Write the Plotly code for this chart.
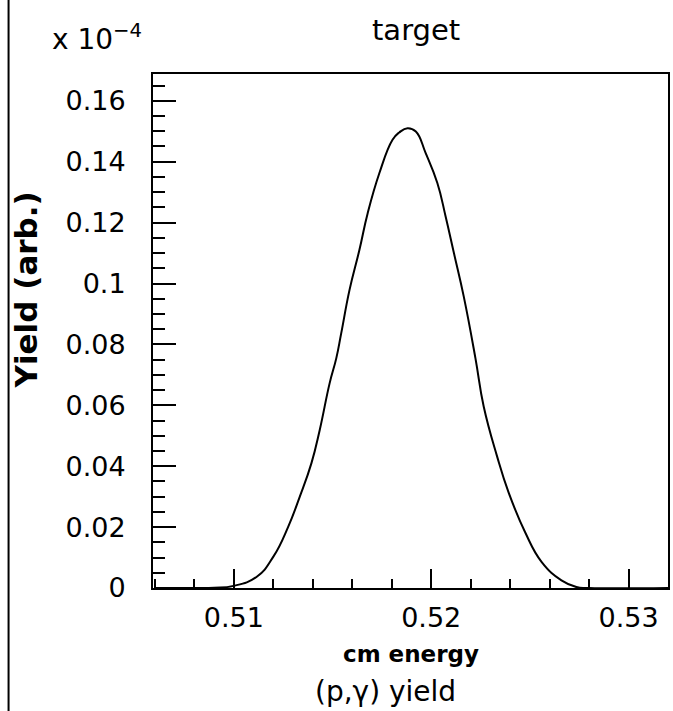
import plotly.graph_objects as go

# Data (energy in MeV, yield in units of 1e-4)
cm_energy = [0.5060, 0.5080, 0.5090, 0.50998, 0.51116, 0.51200, 0.51275, 0.51334, 0.51393,
             0.51435, 0.51485, 0.51519, 0.51544, 0.51586, 0.51636, 0.51678, 0.51737,
             0.51804, 0.51838, 0.51880, 0.51922, 0.51972, 0.52031, 0.52073, 0.52115,
             0.52165, 0.52224, 0.52266, 0.52333, 0.52392, 0.52476, 0.52560, 0.52660,
             0.52736, 0.52800, 0.5320]
yield_vals = [0.0, 0.0, 0.0001, 0.0007, 0.0037, 0.0103, 0.0201, 0.0300, 0.0410,
              0.0519, 0.0672, 0.0755, 0.0837, 0.0979, 0.1110, 0.1231, 0.1362,
              0.1472, 0.1496, 0.1510, 0.1499, 0.1428, 0.1330, 0.1220, 0.1100,
              0.0957, 0.0755, 0.0596, 0.0434, 0.0314, 0.0183, 0.0085, 0.0025,
              0.0003, 0.0, 0.0]

x_tickvals = [0.51, 0.52, 0.53]
x_ticktext = ["0.51", "0.52", "0.53"]
y_tickvals = [0, 0.02, 0.04, 0.06, 0.08, 0.1, 0.12, 0.14, 0.16]
y_ticktext = ["0", "0.02", "0.04", "0.06", "0.08", "0.1", "0.12", "0.14", "0.16"]

W, H = 673, 711
L, R, T, B = 153, 3, 74, 123
PW, PH = W - L - R, H - T - B

def px(x):
    return (x - L) / PW

def py(y):
    return (H - B - y) / PH

FONT = "DejaVu Sans"

fig = go.Figure()
fig.add_trace(go.Scatter(x=cm_energy, y=yield_vals, mode="lines",
                         line=dict(color="black", width=2, shape="spline", smoothing=1.3),
                         showlegend=False, hoverinfo="skip"))

fig.update_layout(
    width=W, height=H,
    margin=dict(l=L, r=R, t=T, b=B, pad=0),
    paper_bgcolor="white", plot_bgcolor="white",
    font=dict(family=FONT, color="black", size=26),
    xaxis=dict(range=[0.5059, 0.5320], showgrid=False, zeroline=False,
               showline=True, linecolor="black", linewidth=2, mirror=True,
               ticks="inside", ticklen=19, tickwidth=2, tickcolor="black",
               tickvals=x_tickvals, ticktext=x_ticktext, ticklabelstandoff=5,
               tickfont=dict(family=FONT, size=27),
               minor=dict(ticks="inside", ticklen=9, tickwidth=2, tickcolor="black",
                          dtick=0.002, tick0=0.51, showgrid=False)),
    yaxis=dict(range=[0, 0.1688], showgrid=False, zeroline=False,
               showline=True, linecolor="black", linewidth=2, mirror=True,
               ticks="inside", ticklen=23, tickwidth=2, tickcolor="black",
               tickvals=y_tickvals, ticktext=y_ticktext, ticklabelstandoff=20,
               tickfont=dict(family=FONT, size=27),
               minor=dict(ticks="inside", ticklen=12, tickwidth=2, tickcolor="black",
                          dtick=0.005, tick0=0, showgrid=False)),
    annotations=[
        dict(text="target", x=px(417), y=py(30), xref="paper", yref="paper",
             xanchor="center", yanchor="middle", showarrow=False,
             font=dict(family=FONT, size=29)),
        dict(text="x 10<sup>−4</sup>", x=px(50), y=py(58), xref="paper", yref="paper",
             xanchor="left", yanchor="bottom", showarrow=False,
             font=dict(family=FONT, size=28)),
        dict(text="cm energy", x=px(412), y=py(654), xref="paper", yref="paper",
             xanchor="center", yanchor="middle", showarrow=False,
             font=dict(family=FONT, size=23, weight="bold")),
        dict(text="(p,γ) yield", x=px(386), y=py(691), xref="paper", yref="paper",
             xanchor="center", yanchor="middle", showarrow=False,
             font=dict(family=FONT, size=28)),
        dict(text="Yield (arb.)", x=px(26), y=py(290), xref="paper", yref="paper",
             xanchor="center", yanchor="middle", showarrow=False, textangle=-90,
             font=dict(family=FONT, size=31, weight="bold")),
    ],
    shapes=[
        dict(type="line", xref="paper", yref="paper", x0=px(8), x1=px(8),
             y0=py(0), y1=py(H), line=dict(color="black", width=2)),
    ],
)

fig.write_html("out.html")
